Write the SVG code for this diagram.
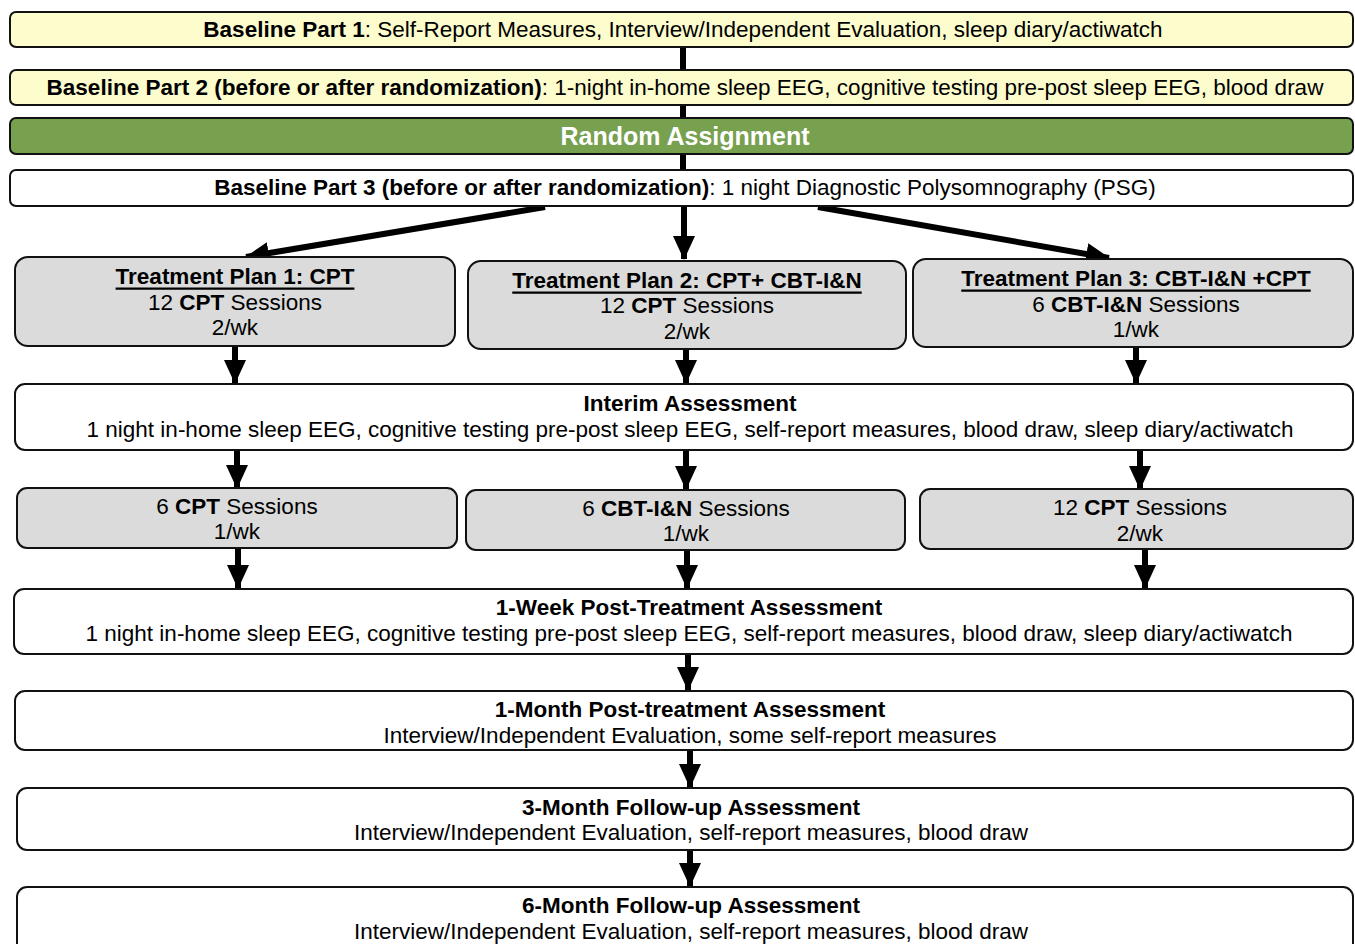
<svg xmlns="http://www.w3.org/2000/svg" width="1355" height="944" viewBox="0 0 1355 944">
<style>
text{font-family:"Liberation Sans",Arial,sans-serif;font-size:22.5px;fill:#000;text-anchor:middle;dominant-baseline:central}
.b{font-weight:bold}
.u{font-weight:bold;text-decoration:underline}
.w{fill:#fff;font-weight:bold;font-size:25px}
.box{stroke:#111;stroke-width:2}
.yel{fill:#FDFCCD}
.wht{fill:#fff}
.gry{fill:#DADBDA}
.grn{fill:#77A04F}
.con{stroke:#000;stroke-width:6;fill:none}
</style>
<defs>
<marker id="ah" markerUnits="userSpaceOnUse" markerWidth="24" markerHeight="24" refX="23" refY="11" orient="auto">
<path d="M0,0 L24,11 L0,22 Z" fill="#000"/>
</marker>
</defs>
<g id="connectors">
<line class="con" x1="683" y1="47" x2="683" y2="170"/>
<line class="con" x1="545" y1="207" x2="246" y2="257" marker-end="url(#ah)"/>
<line class="con" x1="684" y1="207" x2="684" y2="259" marker-end="url(#ah)"/>
<line class="con" x1="818" y1="207" x2="1109" y2="258" marker-end="url(#ah)"/>
<line class="con" x1="235" y1="346" x2="235" y2="383" marker-end="url(#ah)"/>
<line class="con" x1="686" y1="349" x2="686" y2="383" marker-end="url(#ah)"/>
<line class="con" x1="1136" y1="347" x2="1136" y2="383" marker-end="url(#ah)"/>
<line class="con" x1="237" y1="450" x2="237" y2="488" marker-end="url(#ah)"/>
<line class="con" x1="686" y1="450" x2="686" y2="489" marker-end="url(#ah)"/>
<line class="con" x1="1140" y1="450" x2="1140" y2="489" marker-end="url(#ah)"/>
<line class="con" x1="238" y1="548" x2="238" y2="588" marker-end="url(#ah)"/>
<line class="con" x1="687" y1="550" x2="687" y2="588" marker-end="url(#ah)"/>
<line class="con" x1="1145" y1="549" x2="1145" y2="588" marker-end="url(#ah)"/>
<line class="con" x1="688" y1="654" x2="688" y2="690" marker-end="url(#ah)"/>
<line class="con" x1="690" y1="750" x2="690" y2="787" marker-end="url(#ah)"/>
<line class="con" x1="690" y1="850" x2="690" y2="886" marker-end="url(#ah)"/>
</g>
<g id="baseline1">
<rect class="box yel" x="10" y="12" width="1343" height="35" rx="6"/>
<text x="683" y="29"><tspan class="b">Baseline Part 1</tspan>: Self-Report Measures, Interview/Independent Evaluation, sleep diary/actiwatch</text>
</g>
<g id="baseline2">
<rect class="box yel" x="10" y="70" width="1343" height="35" rx="6"/>
<text x="685" y="87"><tspan class="b">Baseline Part 2 (before or after randomization)</tspan>: 1-night in-home sleep EEG, cognitive testing pre-post sleep EEG, blood draw</text>
</g>
<g id="random">
<rect class="box grn" x="10" y="118" width="1343" height="36" rx="6"/>
<text class="w" x="685" y="136">Random Assignment</text>
</g>
<g id="baseline3">
<rect class="box wht" x="10" y="170" width="1343" height="36" rx="6"/>
<text x="685" y="187"><tspan class="b">Baseline Part 3 (before or after randomization)</tspan>: 1 night Diagnostic Polysomnography (PSG)</text>
</g>
<g id="plan1">
<rect class="box gry" x="15" y="257" width="440" height="89" rx="13"/>
<text class="u" x="235" y="276">Treatment Plan 1: CPT</text>
<text x="235" y="302">12 <tspan class="b">CPT</tspan> Sessions</text>
<text x="235" y="327">2/wk</text>
</g>
<g id="plan2">
<rect class="box gry" x="468" y="261" width="438" height="88" rx="13"/>
<text class="u" x="687" y="280">Treatment Plan 2: CPT+ CBT-I&amp;N</text>
<text x="687" y="305">12 <tspan class="b">CPT</tspan> Sessions</text>
<text x="687" y="331">2/wk</text>
</g>
<g id="plan3">
<rect class="box gry" x="913" y="259" width="440" height="88" rx="13"/>
<text class="u" x="1136" y="278">Treatment Plan 3: CBT-I&amp;N +CPT</text>
<text x="1136" y="304">6 <tspan class="b">CBT-I&amp;N</tspan> Sessions</text>
<text x="1136" y="329">1/wk</text>
</g>
<g id="interim">
<rect class="box wht" x="15" y="384" width="1338" height="66" rx="10"/>
<text class="b" x="690" y="403">Interim Assessment</text>
<text x="690" y="429">1 night in-home sleep EEG, cognitive testing pre-post sleep EEG, self-report measures, blood draw, sleep diary/actiwatch</text>
</g>
<g id="sessA">
<rect class="box gry" x="17" y="488" width="440" height="60" rx="10"/>
<text x="237" y="506">6 <tspan class="b">CPT</tspan> Sessions</text>
<text x="237" y="531">1/wk</text>
</g>
<g id="sessB">
<rect class="box gry" x="466" y="490" width="439" height="60" rx="10"/>
<text x="686" y="508">6 <tspan class="b">CBT-I&amp;N</tspan> Sessions</text>
<text x="686" y="533">1/wk</text>
</g>
<g id="sessC">
<rect class="box gry" x="920" y="489" width="433" height="60" rx="10"/>
<text x="1140" y="507">12 <tspan class="b">CPT</tspan> Sessions</text>
<text x="1140" y="533">2/wk</text>
</g>
<g id="week1">
<rect class="box wht" x="14" y="589" width="1339" height="65" rx="10"/>
<text class="b" x="689" y="607">1-Week Post-Treatment Assessment</text>
<text x="689" y="633">1 night in-home sleep EEG, cognitive testing pre-post sleep EEG, self-report measures, blood draw, sleep diary/actiwatch</text>
</g>
<g id="month1">
<rect class="box wht" x="15" y="691" width="1338" height="59" rx="10"/>
<text class="b" x="690" y="709">1-Month Post-treatment Assessment</text>
<text x="690" y="735">Interview/Independent Evaluation, some self-report measures</text>
</g>
<g id="month3">
<rect class="box wht" x="17" y="788" width="1336" height="62" rx="10"/>
<text class="b" x="691" y="807">3-Month Follow-up Assessment</text>
<text x="691" y="832">Interview/Independent Evaluation, self-report measures, blood draw</text>
</g>
<g id="month6">
<rect class="box wht" x="17" y="887" width="1336" height="70" rx="10"/>
<text class="b" x="691" y="905">6-Month Follow-up Assessment</text>
<text x="691" y="931">Interview/Independent Evaluation, self-report measures, blood draw</text>
</g>
</svg>
